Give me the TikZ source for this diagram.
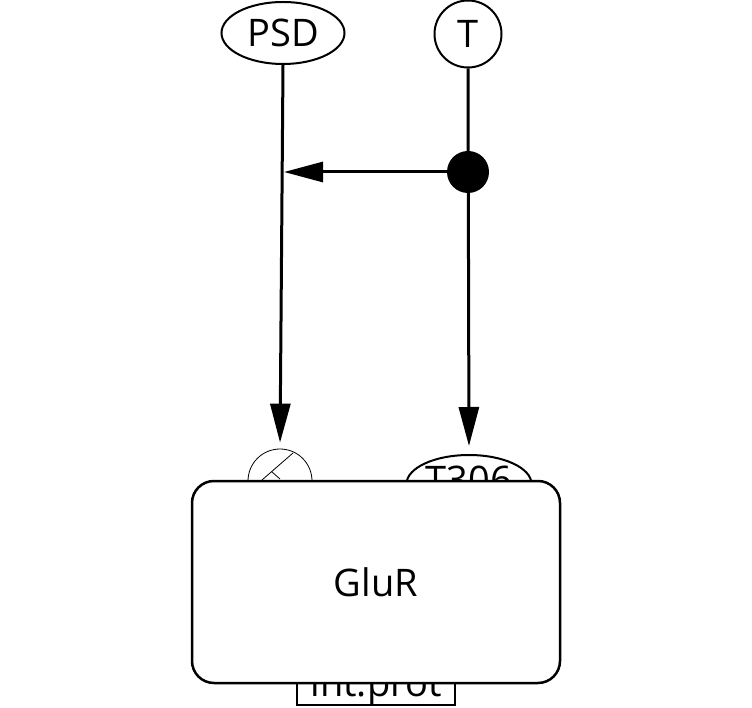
\documentclass[tikz,border=0pt]{standalone}
\usepackage{fontspec}
\setmainfont{Open Sans}
\usetikzlibrary{shapes.geometric,arrows.meta}
\begin{document}
\begin{tikzpicture}[x=1pt,y=-1pt,font=\fontsize{38}{44}\selectfont,
  ent/.style={draw,line width=2pt,inner sep=0pt},
  link/.style={line width=3pt,-{Triangle[length=39pt,width=20pt]}}]
\useasboundingbox (0,0) rectangle (752,708);
\node[ent,ellipse,minimum width=123pt,minimum height=62pt] (psd) at (283,33) {PSD};
\node[ent,circle,minimum size=67pt] (t) at (468,34) {T};
% sites under the box
\node[ent,line width=1.5pt,anchor=base,minimum width=158pt,text height=36pt,text depth=8pt,inner ysep=1pt] (intprot) at (376,696) {int.prot};
\node[draw,circle,line width=0.8pt,minimum size=64pt,inner sep=0pt] (site) at (280,481) {};
\draw[line width=0.8pt] (293,453) -- (262,480) (272,472) -- (280,479);
\node[ent,ellipse,minimum width=125pt,minimum height=58pt,text depth=8pt] (t306) at (469,484) {T306};
\node[ent,line width=2.5pt,rounded corners=22pt,minimum width=368pt,minimum height=202pt,fill=white] (glur) at (376,582) {GluR};
% arrows
\draw[link,shorten >=6pt] (psd.south) -- (site.north);
\draw[link,shorten >=8pt] (t.south) -- (t306.north);
\node[fill,circle,minimum size=42pt,inner sep=0pt] (dot) at (468,172) {};
\coordinate (hit) at (284,172);
\draw[link] (dot) -- (hit);
\end{tikzpicture}
\end{document}
